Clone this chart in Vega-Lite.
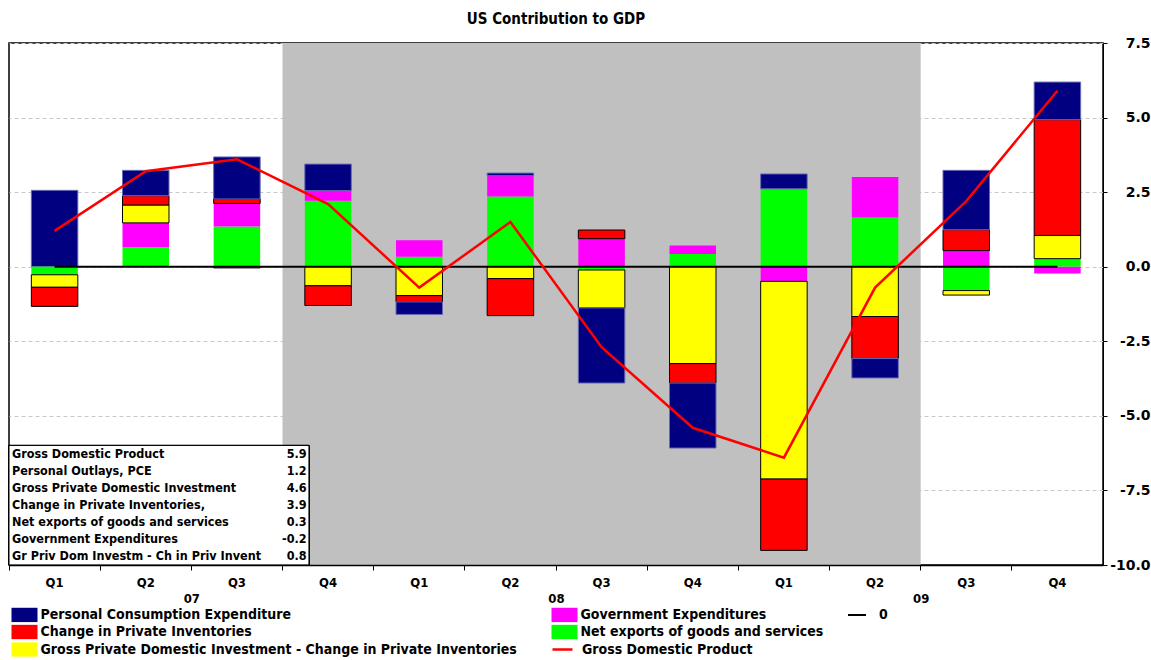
{
  "$schema": "https://vega.github.io/schema/vega-lite/v6.json",
  "width": 1094,
  "height": 522,
  "autosize": {"type": "none"},
  "padding": {"left": 9, "top": 43, "right": 48, "bottom": 95},
  "background": "white",
  "title": {"text": "US Contribution to GDP", "fontSize": 15, "fontWeight": "bold", "anchor": "middle", "offset": 9, "color": "black"},
  "config": {
    "font": "DejaVu Sans Condensed, DejaVu Sans",
    "locale": {"number": {"decimal": ".", "thousands": ",", "grouping": [3], "currency": ["$", ""], "minus": "-"}},
    "view": {"stroke": "black", "strokeWidth": 1.5},
    "legend": {"labelFontSize": 14, "labelFontWeight": "bold", "labelColor": "black", "padding": 0, "labelLimit": 700}
  },
  "datasets": {
    "recession": [{"from": "2007Q4", "to": "2009Q2"}],
    "contrib": [
      {"q": "2007Q1", "series": "Personal Consumption Expenditure", "v": 2.56},
      {"q": "2007Q1", "series": "Net exports of goods and services", "v": -0.27},
      {"q": "2007Q1", "series": "Gross Private Domestic Investment - Change in Private Inventories", "v": -0.42},
      {"q": "2007Q1", "series": "Change in Private Inventories", "v": -0.64},
      {"q": "2007Q2", "series": "Net exports of goods and services", "v": 0.65},
      {"q": "2007Q2", "series": "Government Expenditures", "v": 0.82},
      {"q": "2007Q2", "series": "Gross Private Domestic Investment - Change in Private Inventories", "v": 0.6},
      {"q": "2007Q2", "series": "Change in Private Inventories", "v": 0.31},
      {"q": "2007Q2", "series": "Personal Consumption Expenditure", "v": 0.85},
      {"q": "2007Q3", "series": "Net exports of goods and services", "v": 1.35},
      {"q": "2007Q3", "series": "Government Expenditures", "v": 0.77},
      {"q": "2007Q3", "series": "Change in Private Inventories", "v": 0.15},
      {"q": "2007Q3", "series": "Personal Consumption Expenditure", "v": 1.41},
      {"q": "2007Q3", "series": "Gross Private Domestic Investment - Change in Private Inventories", "v": -0.04},
      {"q": "2007Q4", "series": "Net exports of goods and services", "v": 2.21},
      {"q": "2007Q4", "series": "Government Expenditures", "v": 0.34},
      {"q": "2007Q4", "series": "Personal Consumption Expenditure", "v": 0.89},
      {"q": "2007Q4", "series": "Gross Private Domestic Investment - Change in Private Inventories", "v": -0.64},
      {"q": "2007Q4", "series": "Change in Private Inventories", "v": -0.66},
      {"q": "2008Q1", "series": "Net exports of goods and services", "v": 0.33},
      {"q": "2008Q1", "series": "Government Expenditures", "v": 0.56},
      {"q": "2008Q1", "series": "Gross Private Domestic Investment - Change in Private Inventories", "v": -0.97},
      {"q": "2008Q1", "series": "Change in Private Inventories", "v": -0.21},
      {"q": "2008Q1", "series": "Personal Consumption Expenditure", "v": -0.42},
      {"q": "2008Q2", "series": "Net exports of goods and services", "v": 2.35},
      {"q": "2008Q2", "series": "Government Expenditures", "v": 0.7},
      {"q": "2008Q2", "series": "Personal Consumption Expenditure", "v": 0.09},
      {"q": "2008Q2", "series": "Gross Private Domestic Investment - Change in Private Inventories", "v": -0.4},
      {"q": "2008Q2", "series": "Change in Private Inventories", "v": -1.24},
      {"q": "2008Q3", "series": "Net exports of goods and services", "v": -0.11},
      {"q": "2008Q3", "series": "Government Expenditures", "v": 0.94},
      {"q": "2008Q3", "series": "Change in Private Inventories", "v": 0.29},
      {"q": "2008Q3", "series": "Gross Private Domestic Investment - Change in Private Inventories", "v": -1.27},
      {"q": "2008Q3", "series": "Personal Consumption Expenditure", "v": -2.52},
      {"q": "2008Q4", "series": "Net exports of goods and services", "v": 0.43},
      {"q": "2008Q4", "series": "Government Expenditures", "v": 0.28},
      {"q": "2008Q4", "series": "Gross Private Domestic Investment - Change in Private Inventories", "v": -3.25},
      {"q": "2008Q4", "series": "Change in Private Inventories", "v": -0.65},
      {"q": "2008Q4", "series": "Personal Consumption Expenditure", "v": -2.18},
      {"q": "2009Q1", "series": "Net exports of goods and services", "v": 2.61},
      {"q": "2009Q1", "series": "Personal Consumption Expenditure", "v": 0.5},
      {"q": "2009Q1", "series": "Government Expenditures", "v": -0.49},
      {"q": "2009Q1", "series": "Gross Private Domestic Investment - Change in Private Inventories", "v": -6.63},
      {"q": "2009Q1", "series": "Change in Private Inventories", "v": -2.39},
      {"q": "2009Q2", "series": "Net exports of goods and services", "v": 1.65},
      {"q": "2009Q2", "series": "Government Expenditures", "v": 1.36},
      {"q": "2009Q2", "series": "Gross Private Domestic Investment - Change in Private Inventories", "v": -1.67},
      {"q": "2009Q2", "series": "Change in Private Inventories", "v": -1.41},
      {"q": "2009Q2", "series": "Personal Consumption Expenditure", "v": -0.65},
      {"q": "2009Q3", "series": "Government Expenditures", "v": 0.54},
      {"q": "2009Q3", "series": "Change in Private Inventories", "v": 0.7},
      {"q": "2009Q3", "series": "Personal Consumption Expenditure", "v": 1.99},
      {"q": "2009Q3", "series": "Net exports of goods and services", "v": -0.8},
      {"q": "2009Q3", "series": "Gross Private Domestic Investment - Change in Private Inventories", "v": -0.15},
      {"q": "2009Q4", "series": "Net exports of goods and services", "v": 0.27},
      {"q": "2009Q4", "series": "Gross Private Domestic Investment - Change in Private Inventories", "v": 0.78},
      {"q": "2009Q4", "series": "Change in Private Inventories", "v": 3.88},
      {"q": "2009Q4", "series": "Personal Consumption Expenditure", "v": 1.26},
      {"q": "2009Q4", "series": "Government Expenditures", "v": -0.23}
    ],
    "gdp": [
      {"q": "2007Q1", "yr": "07", "gdp": 1.2},
      {"q": "2007Q2", "yr": "07", "gdp": 3.2},
      {"q": "2007Q3", "yr": "07", "gdp": 3.6},
      {"q": "2007Q4", "yr": "07", "gdp": 2.1},
      {"q": "2008Q1", "yr": "08", "gdp": -0.7},
      {"q": "2008Q2", "yr": "08", "gdp": 1.5},
      {"q": "2008Q3", "yr": "08", "gdp": -2.7},
      {"q": "2008Q4", "yr": "08", "gdp": -5.4},
      {"q": "2009Q1", "yr": "09", "gdp": -6.4},
      {"q": "2009Q2", "yr": "09", "gdp": -0.7},
      {"q": "2009Q3", "yr": "09", "gdp": 2.2},
      {"q": "2009Q4", "yr": "09", "gdp": 5.9}
    ],
    "table": [
      {"i": 0, "label": "Gross Domestic Product", "value": "5.9"},
      {"i": 1, "label": "Personal Outlays, PCE", "value": "1.2"},
      {"i": 2, "label": "Gross Private Domestic Investment", "value": "4.6"},
      {"i": 3, "label": "Change in Private Inventories,", "value": "3.9"},
      {"i": 4, "label": "Net exports of goods and services", "value": "0.3"},
      {"i": 5, "label": "Government Expenditures", "value": "-0.2"},
      {"i": 6, "label": "Gr Priv Dom Investm - Ch in Priv Invent", "value": "0.8"}
    ]
  },
  "resolve": {"scale": {"x": "independent"}},
  "layer": [
    {
      "resolve": {"scale": {"y": "independent"}},
      "layer": [
        {
          "layer": [
            {
              "data": {"name": "recession"},
              "mark": {"type": "rect", "color": "#c0c0c0"},
              "encoding": {
                "x": {
                  "field": "from", "type": "nominal", "bandPosition": 0, "title": null,
                  "scale": {"domain": ["2007Q1","2007Q2","2007Q3","2007Q4","2008Q1","2008Q2","2008Q3","2008Q4","2009Q1","2009Q2","2009Q3","2009Q4"], "paddingInner": 0, "paddingOuter": 0},
                  "axis": {"labelExpr": "slice(datum.value, 4)", "labelAngle": 0, "bandPosition": 0, "tickSize": 5, "tickColor": "black", "domainColor": "black", "domainWidth": 1.5, "labelFontSize": 13, "labelFontWeight": "bold", "labelColor": "black", "labelPadding": 6, "grid": false, "title": null}
                },
                "x2": {"field": "to", "bandPosition": 1},
                "y": {
                  "datum": 7.5, "type": "quantitative", "title": null,
                  "scale": {"domain": [-10, 7.5], "nice": false, "zero": false},
                  "axis": {"orient": "right", "values": [-10, -7.5, -5, -2.5, 0, 2.5, 5, 7.5], "format": ".1f", "grid": true, "gridDash": [4, 3], "gridColor": "#c8c8c8", "tickSize": 4, "tickColor": "black", "domainColor": "black", "labelFont": "DejaVu Sans", "labelFontSize": 14, "labelFontWeight": "bold", "labelColor": "black", "labelAlign": "right", "labelPadding": 43, "title": null}
                },
                "y2": {"datum": -10}
              }
            },
            {
              "data": {"name": "contrib"},
              "transform": [{"calculate": "indexof(['Net exports of goods and services','Government Expenditures','Gross Private Domestic Investment - Change in Private Inventories','Change in Private Inventories','Personal Consumption Expenditure'], datum.series)", "as": "ord"}],
              "mark": {"type": "bar", "width": {"band": 0.51}, "strokeWidth": 1},
              "encoding": {
                "x": {"field": "q", "type": "nominal", "title": null},
                "y": {"field": "v", "type": "quantitative", "stack": "zero", "title": null},
                "color": {
                  "field": "series", "type": "nominal",
                  "scale": {"domain": ["Personal Consumption Expenditure", "Change in Private Inventories", "Gross Private Domestic Investment - Change in Private Inventories", "Government Expenditures", "Net exports of goods and services"], "range": ["#000080", "#ff0000", "#ffff00", "#ff00ff", "#00ff00"]},
                  "legend": {"orient": "none", "legendX": 8.5, "legendY": 564.5, "columns": 2, "title": null, "symbolType": "M-2,-1.1H2V1.1H-2Z", "symbolSize": 169, "symbolStrokeWidth": 0, "labelOffset": 9, "rowPadding": 1.5, "columnPadding": 34}
                },
                "order": {"field": "ord", "type": "quantitative"},
                "stroke": {"condition": [{"test": "datum.series === 'Change in Private Inventories' || datum.series === 'Gross Private Domestic Investment - Change in Private Inventories'", "value": "black"}, {"test": "datum.series === 'Personal Consumption Expenditure'", "value": "#6a6ab4"}], "value": null}
              }
            },
            {
              "data": {"name": "gdp"},
              "mark": {"type": "line", "color": "black", "strokeWidth": 2},
              "encoding": {
                "x": {"field": "q", "type": "nominal", "title": null},
                "y": {"datum": 0, "type": "quantitative"},
                "strokeDash": {"datum": "0", "scale": {"range": [[1, 0]]}, "legend": {"orient": "none", "legendX": 838, "legendY": 562, "title": null, "symbolStrokeColor": "black", "symbolStrokeWidth": 2, "symbolSize": 324, "labelOffset": 12}}
              }
            },
            {
              "data": {"name": "gdp"},
              "mark": {"type": "line", "strokeWidth": 2.5},
              "encoding": {
                "x": {"field": "q", "type": "nominal", "title": null},
                "y": {"field": "gdp", "type": "quantitative", "title": null},
                "stroke": {"datum": "Gross Domestic Product", "scale": {"range": ["#ff0000"]}, "legend": {"orient": "none", "legendX": 542, "legendY": 595, "title": null, "symbolStrokeWidth": 2.5, "symbolSize": 400, "labelOffset": 8}}
              }
            }
          ]
        },
        {
          "data": {"name": "table"},
          "layer": [
            {
              "mark": {"type": "rect", "fill": "white", "stroke": "black", "strokeWidth": 1},
              "encoding": {
                "x": {"datum": "2007Q1", "bandPosition": 0},
                "x2": {"datum": "2007Q4", "bandPosition": 0.29},
                "y": {"datum": -0.53, "type": "quantitative", "scale": {"domain": [-24.2, 6.5], "reverse": true, "nice": false, "zero": false}, "axis": null},
                "y2": {"datum": 6.5}
              }
            },
            {
              "mark": {"type": "text", "align": "left", "baseline": "middle", "fontSize": 12.5, "fontWeight": "bold", "dx": 3, "color": "black"},
              "encoding": {
                "x": {"datum": "2007Q1", "bandPosition": 0},
                "y": {"field": "i", "type": "quantitative"},
                "text": {"field": "label"}
              }
            },
            {
              "mark": {"type": "text", "align": "right", "baseline": "middle", "fontSize": 12.5, "fontWeight": "bold", "color": "black"},
              "encoding": {
                "x": {"datum": "2007Q4", "bandPosition": 0.265},
                "y": {"field": "i", "type": "quantitative"},
                "text": {"field": "value"}
              }
            }
          ]
        }
      ]
    },
    {
      "data": {"name": "gdp"},
      "mark": {"type": "text", "text": ""},
      "encoding": {
        "x": {"field": "yr", "type": "nominal", "title": null, "scale": {"paddingInner": 0, "paddingOuter": 0},
              "axis": {"orient": "bottom", "domain": false, "ticks": false, "offset": 25, "labelFontSize": 13, "labelFontWeight": "bold", "labelColor": "black", "labelPadding": 2, "labelAngle": 0, "title": null}}
      }
    }
  ]
}
